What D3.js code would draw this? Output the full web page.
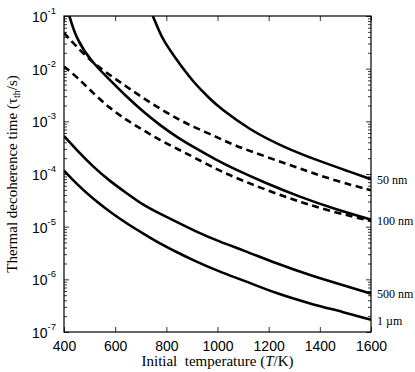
<!DOCTYPE html>
<html>
<head>
<meta charset="utf-8">
<script src="https://cdn.jsdelivr.net/npm/d3@7"></script>
<style>
  body { margin: 0; background: #fff; }
  svg { display: block; }
</style>
</head>
<body>
<div id="chart"></div>
<script>
// temperatures (K) and decoherence times (s)
const t50Solid = [747, 775, 788, 840, 905, 971, 1010, 1127, 1257, 1388, 1518, 1600];
const tau50Solid = [1.0e-1, 4.75e-2, 3.5e-2, 1.46e-2, 5.56e-3, 2.64e-3, 1.78e-3, 6.81e-4, 3.27e-4, 1.83e-4, 1.10e-4, 7.96e-5];

const t50Dash = [400, 436, 515, 580, 645, 710, 775, 840, 905, 997, 1062, 1192, 1322, 1453, 1600];
const tau50Dash = [4.75e-2, 3.03e-2, 1.26e-2, 7.55e-3, 4.53e-3, 2.76e-3, 1.74e-3, 1.14e-3, 7.85e-4, 5.07e-4, 3.53e-4, 2.11e-4, 1.27e-4, 7.62e-5, 4.92e-5];

const t100Solid = [421, 450, 508, 580, 645, 710, 775, 840, 905, 997, 1062, 1192, 1322, 1453, 1600];
const tau100Solid = [1.0e-1, 3.5e-2, 1.35e-2, 6.07e-3, 2.92e-3, 1.52e-3, 8.47e-4, 5.07e-4, 3.27e-4, 1.83e-4, 1.27e-4, 6.59e-5, 3.67e-5, 2.21e-5, 1.36e-5];

const t100Dash = [400, 450, 515, 580, 645, 710, 775, 840, 905, 997, 1062, 1192, 1322, 1453, 1600];
const tau100Dash = [1.10e-2, 7.01e-3, 3.39e-3, 1.76e-3, 1.05e-3, 6.81e-4, 4.40e-4, 3.05e-4, 2.11e-4, 1.23e-4, 8.81e-5, 4.92e-5, 2.95e-5, 1.90e-5, 1.28e-5];

const t500 = [400, 450, 515, 580, 645, 710, 775, 840, 905, 1010, 1101, 1231, 1362, 1492, 1600];
const tau500 = [5.24e-4, 2.83e-4, 1.35e-4, 7.29e-5, 4.32e-5, 2.55e-5, 1.77e-5, 1.23e-5, 8.55e-6, 5.12e-6, 3.56e-6, 1.99e-6, 1.19e-6, 7.69e-7, 5.35e-7];

const t1um = [400, 450, 515, 580, 645, 710, 775, 840, 905, 1010, 1101, 1231, 1362, 1492, 1600];
const tau1um = [1.16e-4, 6.40e-5, 3.32e-5, 1.90e-5, 1.15e-5, 7.40e-6, 4.78e-6, 3.30e-6, 2.30e-6, 1.38e-6, 9.57e-7, 5.35e-7, 3.45e-7, 2.39e-7, 1.71e-7];

const xTicks = [400, 600, 800, 1000, 1200, 1400, 1600];
const yExponents = [-1, -2, -3, -4, -5, -6, -7];
const sizeLabels = ["50 nm", "100 nm", "500 nm", "1 \u00b5m"];
const sizeLabelValues = [7.6e-5, 1.3e-5, 5.2e-7, 1.65e-7];

const margin = {top: 16, right: 44, bottom: 40, left: 64};
const width = 415 - margin.left - margin.right;
const height = 372 - margin.top - margin.bottom;

const svg = d3.select("#chart").append("svg")
    .attr("width", 415)
    .attr("height", 372);

const g = svg.append("g")
    .attr("transform", "translate(" + margin.left + "," + margin.top + ")");

const xScale = d3.scaleLinear().domain([400, 1600]).range([0, width]);
const yScale = d3.scaleLog().domain([1e-7, 1e-1]).range([height, 0]);

g.append("clipPath").attr("id", "plotClip")
    .append("rect").attr("width", width).attr("height", height);

// series
const series = [
    {t: t50Solid, tau: tau50Solid, dash: null},
    {t: t50Dash, tau: tau50Dash, dash: "7,4.5"},
    {t: t100Solid, tau: tau100Solid, dash: null},
    {t: t100Dash, tau: tau100Dash, dash: "7,4.5"},
    {t: t500, tau: tau500, dash: null},
    {t: t1um, tau: tau1um, dash: null}
];

// basis spline smooths out small reading errors between the points
const line = d3.line()
    .x(d => xScale(d[0]))
    .y(d => yScale(d[1]))
    .curve(d3.curveBasis);

g.append("g").attr("clip-path", "url(#plotClip)")
    .selectAll("path")
    .data(series)
    .join("path")
    .attr("d", s => line(s.t.map((t, i) => [t, s.tau[i]])))
    .attr("fill", "none")
    .attr("stroke", "#000")
    .attr("stroke-width", 2.6)
    .attr("stroke-dasharray", s => s.dash);

// axes with inward ticks (bottom, top, left, right)
const tickLen = 5;
const xAxisB = d3.axisBottom(xScale).tickValues(xTicks).tickSizeInner(-tickLen).tickSizeOuter(0)
    .tickPadding(9).tickFormat(d3.format("d"));
const xAxisT = d3.axisTop(xScale).tickValues(xTicks).tickSizeInner(-tickLen).tickSizeOuter(0).tickFormat("");

const majorY = yExponents.map(e => Math.pow(10, e));
const minorY = [];
for (let e = -7; e < -1; e++) {
    for (let m = 2; m <= 9; m++) minorY.push(m * Math.pow(10, e));
}

const xg = g.append("g").attr("transform", "translate(0," + height + ")").call(xAxisB);
g.append("g").call(xAxisT);

const yAxisL = d3.axisLeft(yScale).tickValues(majorY).tickSizeInner(-tickLen).tickSizeOuter(0).tickFormat("");
const yAxisR = d3.axisRight(yScale).tickValues(majorY).tickSizeInner(-tickLen).tickSizeOuter(0).tickFormat("");
const yMinorL = d3.axisLeft(yScale).tickValues(minorY).tickSizeInner(-3).tickSizeOuter(0).tickFormat("");
const yMinorR = d3.axisRight(yScale).tickValues(minorY).tickSizeInner(-3).tickSizeOuter(0).tickFormat("");
g.append("g").call(yAxisL);
g.append("g").call(yMinorL);
g.append("g").attr("transform", "translate(" + width + ",0)").call(yAxisR);
g.append("g").attr("transform", "translate(" + width + ",0)").call(yMinorR);

g.selectAll(".domain").remove();
g.selectAll(".tick line").attr("stroke", "#000").attr("stroke-width", 0.8);

xg.selectAll(".tick text")
    .attr("font-family", "Liberation Sans, Arial, sans-serif")
    .attr("font-size", 14)
    .attr("fill", "#000");

// frame
g.append("rect")
    .attr("width", width).attr("height", height)
    .attr("fill", "none").attr("stroke", "#000").attr("stroke-width", 1.2);

// y tick labels 10^n
const yLab = g.append("g")
    .attr("font-family", "Liberation Sans, Arial, sans-serif")
    .attr("fill", "#000");
yExponents.forEach(e => {
    const txt = yLab.append("text")
        .attr("x", -8)
        .attr("y", yScale(Math.pow(10, e)) + 6)
        .attr("text-anchor", "end");
    txt.append("tspan").attr("font-size", 14).text("10");
    txt.append("tspan").attr("font-size", 9.5).attr("dy", -8).text("-" + Math.abs(e));
});

// size labels at right
const sizeG = g.append("g")
    .attr("font-family", "Liberation Serif, Times New Roman, serif")
    .attr("font-size", 12)
    .attr("fill", "#000");
sizeLabels.forEach((lab, i) => {
    sizeG.append("text")
        .attr("x", width + 6)
        .attr("y", yScale(sizeLabelValues[i]) + 4)
        .text(lab);
});

// axis titles
const xTitle = svg.append("text")
    .attr("x", margin.left + width / 2)
    .attr("y", 366)
    .attr("text-anchor", "middle")
    .attr("font-family", "Liberation Serif, Times New Roman, serif")
    .attr("font-size", 15)
    .attr("fill", "#000");
xTitle.append("tspan").text("Initial\u00a0 temperature (");
xTitle.append("tspan").attr("font-style", "italic").text("T");
xTitle.append("tspan").text("/K)");

const yTitle = svg.append("text")
    .attr("transform", "translate(17," + (margin.top + height / 2) + ") rotate(-90)")
    .attr("text-anchor", "middle")
    .attr("font-family", "Liberation Serif, Times New Roman, serif")
    .attr("font-size", 15)
    .attr("fill", "#000");
yTitle.append("tspan").text("Thermal decoherence time (\u03c4");
yTitle.append("tspan").attr("font-size", 10).attr("dy", 3).text("th");
yTitle.append("tspan").attr("dy", -3).text("/s)");
</script>
</body>
</html>
